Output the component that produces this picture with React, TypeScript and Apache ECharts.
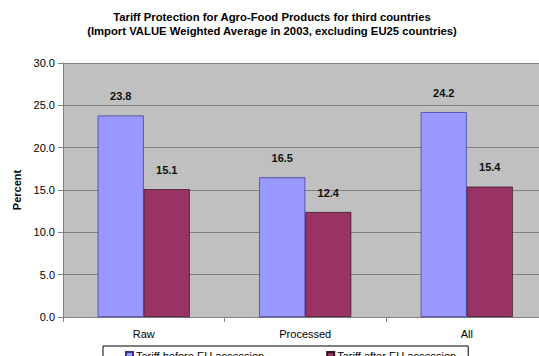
import React, { useEffect, useRef } from "react";
import * as echarts from "echarts";

const categories = ["Raw", "Processed", "All"];
const seriesNames = ["Tariff before EU accession", "Tariff after EU accession"];
const before = [23.8, 16.5, 24.2];
const after = [15.1, 12.4, 15.4];
const titleLines = [
  "Tariff Protection for Agro-Food Products for third countries",
  "(Import VALUE Weighted Average in 2003, excluding EU25 countries)",
];
const yAxisName = "Percent";

const FONT = "'Liberation Sans', Arial, sans-serif";

export default function App() {
  const ref = useRef<HTMLDivElement>(null);
  useEffect(() => {
    if (!ref.current) return;
    const chart = echarts.init(ref.current, undefined, { renderer: "svg" });
    const label = {
      show: true,
      position: "top",
      distance: 14,
      fontFamily: FONT,
      fontSize: 11,
      fontWeight: "bold",
      color: "#111",
      formatter: (p: any) => Number(p.value).toFixed(1),
    };
    chart.setOption({
      animation: false,
      backgroundColor: "#fff",
      textStyle: { fontFamily: FONT },
      title: {
        text: titleLines.join("\n"),
        left: 267,
        textAlign: "center",
        top: 5,
        textStyle: {
          fontFamily: FONT,
          fontSize: 11.3,
          fontWeight: "bold",
          color: "#000",
          lineHeight: 14,
        },
      },
      legend: {
        left: 103,
        top: 346,
        orient: "horizontal",
        itemWidth: 7,
        itemHeight: 7,
        itemGap: 62,
        padding: [4, 12, 5, 22],
        borderColor: "#000",
        borderWidth: 1,
        backgroundColor: "#fff",
        icon: "rect",
        textStyle: { fontFamily: FONT, fontSize: 11, color: "#000", padding: [0, 0, 0, -2] },
        data: seriesNames,
      },
      grid: {
        left: 63,
        top: 63,
        right: 12.5,
        bottom: 63,
        show: true,
        backgroundColor: "#c0c0c0",
        borderWidth: 0,
      },
      xAxis: {
        type: "category",
        data: categories,
        axisLine: { lineStyle: { color: "#808080", width: 1 } },
        axisTick: { show: true, length: 5, lineStyle: { color: "#808080" } },
        axisLabel: { fontFamily: FONT, fontSize: 11, color: "#000", margin: 11 },
      },
      yAxis: {
        type: "value",
        min: 0,
        max: 30,
        interval: 5,
        name: yAxisName,
        nameLocation: "middle",
        nameGap: 36,
        nameTextStyle: { fontFamily: FONT, fontSize: 11, fontWeight: "bold", color: "#000" },
        axisLine: { show: true, lineStyle: { color: "#808080", width: 1 } },
        axisTick: { show: true, length: 5, lineStyle: { color: "#808080" } },
        axisLabel: {
          fontFamily: FONT,
          fontSize: 11,
          color: "#000",
          margin: 8,
          formatter: (v: number) => v.toFixed(1),
        },
        splitLine: { show: true, lineStyle: { color: "#808080", width: 1 } },
      },
      series: [
        {
          name: seriesNames[0],
          type: "bar",
          data: before,
          barGap: "0%",
          barCategoryGap: "43%",
          itemStyle: { color: "#9999ff", borderColor: "#333399", borderWidth: 0.7 },
          label,
        },
        {
          name: seriesNames[1],
          type: "bar",
          data: after,
          barGap: "0%",
          barCategoryGap: "43%",
          itemStyle: { color: "#993366", borderColor: "#331122", borderWidth: 0.7 },
          label,
        },
      ],
    });
    return () => chart.dispose();
  }, []);
  return (
    <div
      style={{
        position: "fixed",
        left: 0,
        top: 0,
        width: 539,
        height: 356,
        overflow: "hidden",
        background: "#fff",
      }}
    >
      <div ref={ref} style={{ width: 560, height: 380 }} />
    </div>
  );
}
